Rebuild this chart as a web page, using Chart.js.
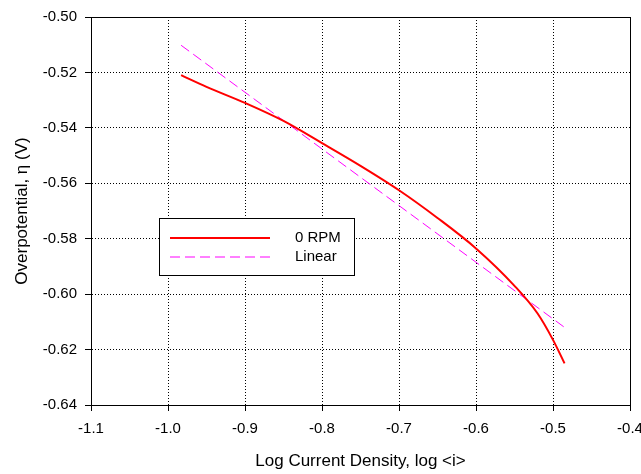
<!DOCTYPE html>
<html>
<head>
<meta charset="utf-8">
<script src="https://cdn.jsdelivr.net/npm/chart.js@4"></script>
<style>
  html, body { margin: 0; padding: 0; background: #fff; }
  #wrap { width: 641px; height: 474px; }
</style>
</head>
<body>
<div id="wrap"><canvas id="chart" width="641" height="474"></canvas></div>
<script>
// ── Tafel plot: overpotential vs log current density ──

const rpmLogI = [-0.983, -0.95, -0.9, -0.85, -0.8, -0.75, -0.7, -0.65, -0.6, -0.55, -0.52, -0.5, -0.485];
const rpmEta  = [-0.521, -0.5252, -0.531, -0.5375, -0.5455, -0.5537, -0.5625, -0.5725, -0.5835, -0.597, -0.607, -0.6165, -0.625];

const linLogI = [-0.983, -0.484];
const linEta  = [-0.5102, -0.6122];

const seriesNames = ['0 RPM', 'Linear'];
const FONT = 'Liberation Sans, Arial, Helvetica, sans-serif';

const toPts = (xs, ys) => xs.map((x, i) => ({ x, y: ys[i] }));

// frame + inset legend
const framePlugin = {
  id: 'frame',
  afterDatasetsDraw(chart) {
    const { ctx, chartArea: a } = chart;
    ctx.save();
    ctx.strokeStyle = '#000';
    ctx.lineWidth = 1;
    ctx.strokeRect(Math.round(a.left) + 0.5, Math.round(a.top) + 0.5,
                   Math.round(a.right - a.left), Math.round(a.bottom - a.top));

    // legend box
    const bx = 159.5, by = 218.5, bw = 195, bh = 57;
    ctx.fillStyle = '#fff';
    ctx.fillRect(bx, by, bw, bh);
    ctx.strokeRect(bx, by, bw, bh);
    ctx.font = '15px ' + FONT;
    ctx.textBaseline = 'middle';
    ctx.textAlign = 'left';
    chart.data.datasets.forEach((ds, i) => {
      const y = 238 + i * 19;
      ctx.strokeStyle = ds.borderColor;
      ctx.lineWidth = ds.borderWidth;
      ctx.setLineDash(ds.borderDash || []);
      ctx.beginPath();
      ctx.moveTo(170, y);
      ctx.lineTo(270, y);
      ctx.stroke();
      ctx.setLineDash([]);
      ctx.fillStyle = '#000';
      ctx.fillText(ds.label, 295, y);
    });
    ctx.restore();
  }
};

const gridOpts = {
  color: '#000',
  tickBorderDash: [],
  tickLength: 6,
  tickColor: '#000'
};

new Chart(document.getElementById('chart'), {
  type: 'scatter',
  data: {
    datasets: [{
      label: seriesNames[0],
      data: toPts(rpmLogI, rpmEta),
      showLine: true,
      borderColor: '#ff0000',
      borderWidth: 2,
      pointRadius: 0,
      cubicInterpolationMode: 'monotone',
      fill: false
    }, {
      label: seriesNames[1],
      data: toPts(linLogI, linEta),
      showLine: true,
      borderColor: '#ff00ff',
      borderWidth: 1,
      borderDash: [10, 5],
      pointRadius: 0,
      fill: false
    }]
  },
  options: {
    responsive: false,
    animation: false,
    layout: { padding: { top: 17, right: 11, left: 0, bottom: 0 } },
    plugins: { legend: { display: false }, tooltip: { enabled: false } },
    scales: {
      x: {
        type: 'linear',
        min: -1.1, max: -0.4,
        afterFit: s => { s.height = 69; s.paddingLeft = 0; s.paddingRight = 0; },
        ticks: {
          stepSize: 0.1,
          color: '#000',
          font: { size: 15, family: FONT },
          padding: 9,
          maxRotation: 0,
          callback: v => v.toFixed(1)
        },
        grid: gridOpts,
        border: { display: true, color: '#000', width: 1, dash: [1, 2] },
        title: {
          display: true,
          text: 'Log Current Density, log <i>',
          color: '#000',
          font: { size: 17, family: FONT },
          padding: { top: 2, bottom: 2 }
        }
      },
      y: {
        type: 'linear',
        min: -0.64, max: -0.50,
        afterFit: s => { s.width = 91; s.paddingTop = 0; s.paddingBottom = 0; },
        ticks: {
          stepSize: 0.02,
          color: '#000',
          font: { size: 15, family: FONT },
          padding: 8,
          callback: v => v.toFixed(2)
        },
        grid: gridOpts,
        border: { display: true, color: '#000', width: 1, dash: [1, 2] },
        title: {
          display: true,
          text: 'Overpotential, η (V)',
          color: '#000',
          font: { size: 17, family: FONT },
          padding: { top: 12, bottom: 2 }
        }
      }
    }
  },
  plugins: [framePlugin]
});
</script>
</body>
</html>
